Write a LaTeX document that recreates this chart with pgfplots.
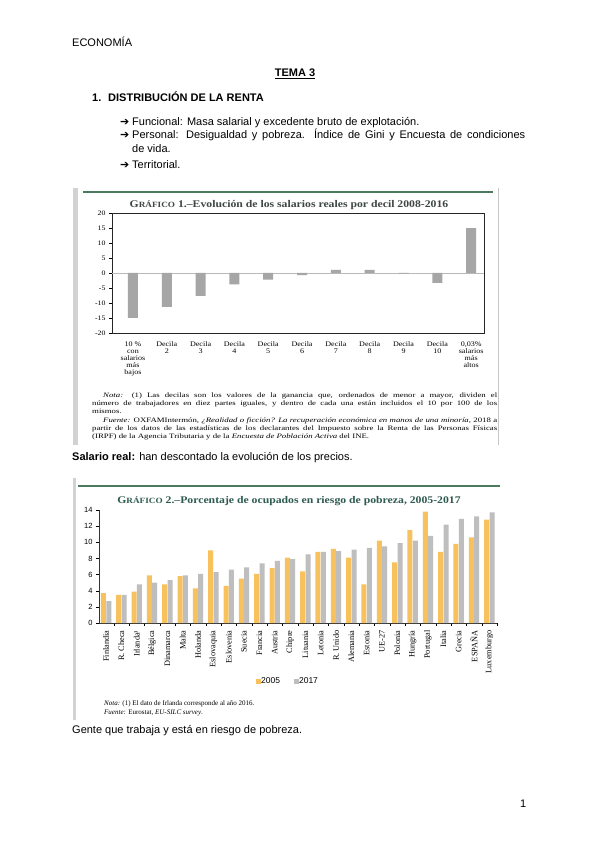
\documentclass[border=0pt]{standalone}
\usepackage{pgfplots}
\pgfplotsset{compat=1.18}
\usepackage{fontspec}
\setmainfont{Liberation Sans}
\newfontfamily\serif{Liberation Serif}
\newfontfamily\serifx[FakeStretch=1.3]{Liberation Serif}
\newfontfamily\serifw[FakeStretch=1.15]{Liberation Serif}
\newfontfamily\dejavu{DejaVu Sans}
\definecolor{gbar}{HTML}{A6A6A6}
\definecolor{or05}{HTML}{F7C25E}
\definecolor{gr17}{HTML}{BEBEBE}
\definecolor{gline}{HTML}{4C7A5C}
\definecolor{ttlA}{HTML}{3E4744}
\definecolor{ttlB}{HTML}{2E5B4F}
\newcommand\body{\fontsize{11}{13}\selectfont}
\newcommand\note{\serifx\fontsize{6.75}{8}\selectfont}
\begin{document}
\begin{tikzpicture}[x=1pt,y=1pt]
\fill[white] (0,0) rectangle (600,-848);
% page text
\node[anchor=base west,inner sep=0,font=\body] at (72,-47) {ECONOMÍA};
\node[anchor=base,inner sep=0,font=\body\bfseries] at (295,-77) {\underline{TEMA 3}};
\node[anchor=base west,inner sep=0,font=\body\bfseries] at (92,-102) {1.};
\node[anchor=base west,inner sep=0,font=\body\bfseries] at (108,-102) {DISTRIBUCIÓN DE LA RENTA};
\foreach \yy in {125,139,168}
  \node[anchor=base west,inner sep=0,font=\body] at (120,-\yy) {\dejavu ➔};
\node[anchor=base west,inner sep=0,font=\body] at (132,-125) {Funcional: Masa salarial y excedente bruto de explotación.};
\node[anchor=base west,inner sep=0,font=\body] at (132,-139) {\makebox[393pt][s]{Personal: Desigualdad y pobreza. Índice de Gini y Encuesta de condiciones}};
\node[anchor=base west,inner sep=0,font=\body] at (132,-153) {de vida.};
\node[anchor=base west,inner sep=0,font=\body] at (132,-168) {Territorial.};
% frame of chart 1
\fill[gray!35] (73,-188) rectangle (78,-445);
\draw[gray!45,line width=0.7pt] (498,-188) -- (498,-445);
\draw[gline,line width=1.4pt] (83,-192) -- (493,-192);
\node[anchor=base,inner sep=0,text=ttlA,font=\serifw\bfseries\fontsize{10.2}{12}\selectfont] at (289,-207)
  {G{\fontsize{8}{9}\selectfont RÁFICO} 1.–Evolución de los salarios reales por decil 2008-2016};
\begin{axis}[at={(112pt,-213pt)},anchor=north west,scale only axis,
  width=372pt,height=120pt,
  xmin=-0.62,xmax=10.38,ymin=-20,ymax=20,
  ytick={-20,-15,...,20},ytick pos=left,tick align=outside,
  major tick length=3pt,
  ytick style={black},
  xtick={0,...,10},
  x tick style={draw=none},
  xticklabels={{10 \%\\con\\salarios\\más\\bajos},{Decila\\2},{Decila\\3},{Decila\\4},{Decila\\5},{Decila\\6},{Decila\\7},{Decila\\8},{Decila\\9},{Decila\\10},{0,03\%\\salarios\\más\\altos}},
  xticklabel style={align=center,anchor=north,yshift=-2pt,font=\serifw\fontsize{7}{7}\selectfont},
  yticklabel style={font=\serifw\fontsize{6.8}{7}\selectfont},
  /pgf/number format/assume math mode=true,
  axis line style={black!85,line width=0.8pt},
  ybar,bar width=10pt]
\draw[gray!55,line width=0.5pt] (axis cs:-0.62,0) -- (axis cs:10.38,0);
\addplot[fill=gbar,draw=none] coordinates {(0,-15) (1,-11.3) (2,-7.6) (3,-3.8) (4,-2.2) (5,-0.7) (6,1) (7,1) (8,-0.2) (9,-3.3) (10,15)};
\pgfplotsinvokeforeach{0.5,1.5,2.5,3.5,4.5,5.5,6.5,7.5,8.5,9.5}{
  \draw[black,line width=0.8pt] (axis cs:#1,0) ++(0,1pt) -- ++(0,-3pt);}
\end{axis}
% notes chart 1
\node[anchor=base west,inner sep=0,font=\note] at (103,-397) {\makebox[394pt][s]{\textit{Nota:} (1) Las decilas son los valores de la ganancia que, ordenados de menor a mayor, dividen el}};
\node[anchor=base west,inner sep=0,font=\note] at (92,-405) {\makebox[405pt][s]{número de trabajadores en diez partes iguales, y dentro de cada una están incluidos el 10 por 100 de los}};
\node[anchor=base west,inner sep=0,font=\note] at (92,-413) {mismos.};
\node[anchor=base west,inner sep=0,font=\note] at (103,-422) {\makebox[394pt][s]{\textit{Fuente:} OXFAMIntermón, \textit{¿Realidad o ficción? La recuperación económica en manos de una minoría}, 2018 a}};
\node[anchor=base west,inner sep=0,font=\note] at (92,-430) {\makebox[405pt][s]{partir de los datos de las estadísticas de los declarantes del Impuesto sobre la Renta de las Personas Físicas}};
\node[anchor=base west,inner sep=0,font=\note] at (92,-438) {(IRPF) de la Agencia Tributaria y de la \textit{Encuesta de Población Activa} del INE.};
\node[anchor=base west,inner sep=0,font=\body] at (72,-460) {\textbf{Salario real:} han descontado la evolución de los precios.};
% frame of chart 2
\fill[gray!35] (73,-478) rectangle (75.5,-720);
\draw[gline,line width=1.4pt] (78,-486) -- (500,-486);
\node[anchor=base,inner sep=0,text=ttlB,font=\serifw\bfseries\fontsize{10.2}{12}\selectfont] at (289,-503)
  {G{\fontsize{8}{9}\selectfont RÁFICO} 2.–Porcentaje de ocupados en riesgo de pobreza, 2005-2017};
\begin{axis}[at={(99pt,-623pt)},anchor=south west,scale only axis,
  width=398pt,height=113pt,
  xmin=-0.46,xmax=25.5,ymin=0,ymax=14,
  axis x line*=bottom,axis y line*=left,
  axis line style={black!80,line width=0.6pt},
  ytick={0,2,...,14},tick align=outside,
  major tick length=3pt,minor tick length=3pt,
  ytick style={black},
  xtick={0,...,25},major x tick style={draw=none},
  minor xtick={0.5,1.5,...,25.5},
  minor x tick style={black},
  xticklabels={Finlandia,R. Checa,Irlanda¹,Bélgica,Dinamarca,Malta,Holanda,Eslovaquia,Eslovenia,Suecia,Francia,Austria,Chipre,Lituania,Letonia,R. Unido,Alemania,Estonia,UE-27,Polonia,Hungría,Portugal,Italia,Grecia,ESPAÑA,Luxemburgo},
  xticklabel style={rotate=90,anchor=east,xshift=-1pt,font=\serif\fontsize{8.3}{9}\selectfont},
  yticklabel style={font=\fontsize{7.5}{9}\selectfont},
  /pgf/number format/assume math mode=true,
  ybar=0.4pt,bar width=5pt,
  legend style={at={(0.475,-0.52)},anchor=center,draw=none,fill=none,
    legend columns=2,font=\fontsize{8.5}{9}\selectfont,
    /tikz/every odd column/.style={column sep=-2pt},
    /tikz/every even column/.style={column sep=12pt}},
  legend image code/.code={\fill[#1] (0pt,-2.5pt) rectangle (5pt,2.5pt);}]
\addplot[fill=or05,draw=none] coordinates {(0,3.7) (1,3.5) (2,3.9) (3,5.9) (4,4.8) (5,5.8) (6,4.3) (7,9.0) (8,4.6) (9,5.5) (10,6.1) (11,6.8) (12,8.1) (13,6.4) (14,8.8) (15,9.2) (16,8.1) (17,4.8) (18,10.2) (19,7.5) (20,11.5) (21,13.8) (22,8.8) (23,9.8) (24,10.6) (25,12.8)};
\addplot[fill=gr17,draw=none] coordinates {(0,2.7) (1,3.5) (2,4.8) (3,5.0) (4,5.3) (5,5.9) (6,6.1) (7,6.3) (8,6.6) (9,6.9) (10,7.4) (11,7.7) (12,7.9) (13,8.5) (14,8.8) (15,8.9) (16,9.1) (17,9.3) (18,9.5) (19,9.9) (20,10.2) (21,10.8) (22,12.2) (23,12.9) (24,13.2) (25,13.7)};
\legend{2005,2017}
\end{axis}
% notes chart 2
\node[anchor=base west,inner sep=0,font=\serif\fontsize{7}{8}\selectfont] at (104,-705) {\textit{Nota:} (1) El dato de Irlanda corresponde al año 2016.};
\node[anchor=base west,inner sep=0,font=\serif\fontsize{7}{8}\selectfont] at (104,-714) {\textit{Fuente:} Eurostat, \textit{EU-SILC survey}.};
\node[anchor=base west,inner sep=0,font=\body] at (72,-733) {Gente que trabaja y está en riesgo de pobreza.};
\node[anchor=base west,inner sep=0,font=\body] at (520,-807) {1};
\end{tikzpicture}
\end{document}
